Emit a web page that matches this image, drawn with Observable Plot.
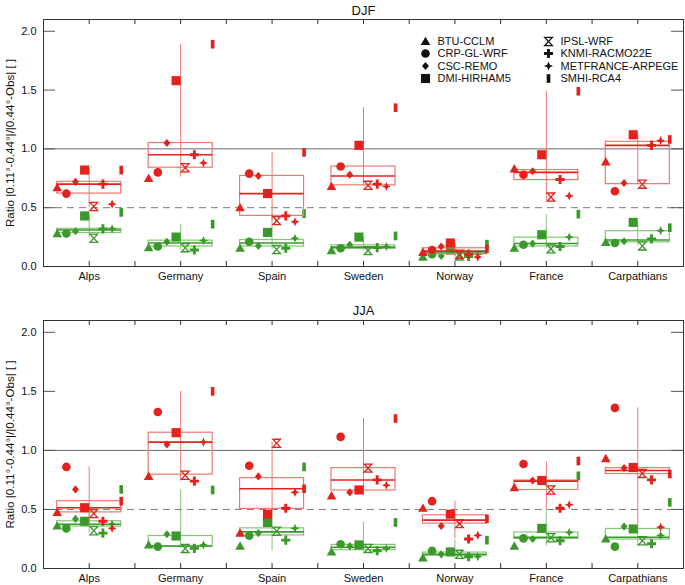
<!DOCTYPE html>
<html><head><meta charset="utf-8">
<script src="https://cdn.jsdelivr.net/npm/d3@7"></script>
<script src="https://cdn.jsdelivr.net/npm/@observablehq/plot@0.6"></script>
<style>body{margin:0;background:#fff} svg{display:block}</style>
</head><body><div id="chart"></div>
<script>
const regions = ["Alps","Germany","Spain","Sweden","Norway","France","Carpathians"];
const models = ["BTU-CCLM","CRP-GL-WRF","CSC-REMO","DMI-HIRHAM5","IPSL-WRF","KNMI-RACMO22E","METFRANCE-ARPEGE","SMHI-RCA4"];
const yTicks = [0, 0.5, 1.0, 1.5, 2.0];
const yDomain = [0, 2.1];
const yLabel = "Ratio |0.11°-0.44°|/|0.44°-Obs| [ ]";

// values per region (rows) and model (columns, order of `models`)
const djfRed = [
  [0.67, 0.62, 0.72, 0.82, 0.51, 0.70, 0.53, 0.82],
  [0.75, 0.80, 1.05, 1.58, 0.84, 0.95, 0.88, 1.89],
  [0.50, 0.79, 0.77, 0.62, 0.39, 0.43, 0.38, 0.97],
  [0.68, 0.85, 0.78, 1.03, 0.69, 0.70, 0.68, 1.35],
  [0.12, 0.14, 0.17, 0.20, 0.105, 0.105, 0.08, 0.15],
  [0.83, 0.78, 0.81, 0.95, 0.59, 0.74, 0.60, 1.49],
  [0.89, 0.64, 0.71, 1.12, 0.70, 1.03, 1.07, 1.08]
];
const djfGreen = [
  [0.28, 0.28, 0.30, 0.43, 0.24, 0.32, 0.32, 0.46],
  [0.16, 0.17, 0.21, 0.25, 0.16, 0.14, 0.22, 0.36],
  [0.155, 0.21, 0.175, 0.29, 0.145, 0.155, 0.24, 0.45],
  [0.135, 0.155, 0.185, 0.25, 0.135, 0.16, 0.17, 0.26],
  [0.08, 0.105, 0.09, 0.14, 0.09, 0.085, 0.105, 0.19],
  [0.155, 0.185, 0.195, 0.27, 0.15, 0.17, 0.25, 0.445],
  [0.205, 0.20, 0.215, 0.375, 0.175, 0.235, 0.305, 0.33]
];
const jjaRed = [
  [0.475, 0.86, 0.67, 0.515, 0.465, 0.40, 0.34, 0.57],
  [0.78, 1.325, 1.05, 1.15, 0.79, 0.74, 1.07, 1.50],
  [0.30, 0.87, 0.78, 0.46, 1.06, 0.51, 0.645, 0.675],
  [0.615, 1.115, 0.645, 0.665, 0.85, 0.75, 0.705, 1.27],
  [0.51, 0.57, 0.36, 0.46, 0.38, 0.25, 0.28, 0.42],
  [0.685, 0.885, 0.745, 0.745, 0.665, 0.51, 0.54, 0.91],
  [0.93, 1.36, 0.85, 0.855, 0.805, 0.75, 0.35, 0.80]
];
const jjaGreen = [
  [0.36, 0.34, 0.42, 0.40, 0.32, 0.30, 0.375, 0.67],
  [0.20, 0.185, 0.29, 0.275, 0.17, 0.17, 0.20, 0.665],
  [0.19, 0.277, 0.30, 0.39, 0.315, 0.24, 0.34, 0.86],
  [0.14, 0.205, 0.19, 0.20, 0.17, 0.15, 0.17, 0.39],
  [0.09, 0.15, 0.12, 0.14, 0.12, 0.10, 0.10, 0.24],
  [0.19, 0.255, 0.25, 0.34, 0.26, 0.235, 0.305, 0.785],
  [0.25, 0.185, 0.355, 0.335, 0.235, 0.21, 0.28, 0.56]
];

// box statistics per region: [whisker low, box low, median, box high, whisker high]
const djfRedBox = [
  [0.50, 0.62, 0.70, 0.72, 0.83],
  [0.76, 0.84, 0.95, 1.05, 1.89],
  [0.38, 0.43, 0.62, 0.77, 0.97],
  [0.68, 0.69, 0.77, 0.85, 1.35],
  [0.08, 0.105, 0.13, 0.155, 0.20],
  [0.56, 0.735, 0.80, 0.82, 1.49],
  [0.70, 0.70, 1.03, 1.06, 1.12]
];
const djfGreenBox = [
  [0.24, 0.285, 0.31, 0.32, 0.44],
  [0.14, 0.17, 0.20, 0.22, 0.36],
  [0.145, 0.17, 0.20, 0.225, 0.45],
  [0.135, 0.15, 0.165, 0.18, 0.25],
  [0.08, 0.105, 0.115, 0.13, 0.19],
  [0.15, 0.17, 0.195, 0.245, 0.44],
  [0.175, 0.205, 0.225, 0.30, 0.375]
];
const jjaRedBox = [
  [0.35, 0.475, 0.515, 0.57, 0.86],
  [0.74, 0.795, 1.07, 1.15, 1.50],
  [0.46, 0.505, 0.675, 0.765, 1.07],
  [0.615, 0.66, 0.75, 0.85, 1.27],
  [0.25, 0.38, 0.41, 0.45, 0.57],
  [0.50, 0.665, 0.74, 0.745, 0.905],
  [0.35, 0.80, 0.83, 0.85, 1.36]
];
const jjaGreenBox = [
  [0.30, 0.355, 0.375, 0.40, 0.50],
  [0.17, 0.185, 0.19, 0.275, 0.665],
  [0.15, 0.28, 0.31, 0.34, 0.46],
  [0.14, 0.155, 0.18, 0.20, 0.39],
  [0.09, 0.11, 0.12, 0.135, 0.24],
  [0.19, 0.25, 0.265, 0.305, 0.50],
  [0.185, 0.245, 0.265, 0.335, 0.35]
];

const RED = "#e3211d", GREEN = "#3b982b", RED_L = "#f0776e", GREEN_L = "#84c477";
const INK = "#111";

function sym(draw) { return {draw(ctx, size) { const r = Math.sqrt(size / Math.PI); draw(ctx, r); }}; }
function poly(c, pts) { c.moveTo(pts[0][0], pts[0][1]); for (let i = 1; i < pts.length; i++) c.lineTo(pts[i][0], pts[i][1]); c.closePath(); }
const symbols = [
  sym((c, r) => poly(c, [[0, -r], [r, r * 0.75], [-r, r * 0.75]])),
  sym((c, r) => { c.moveTo(r * 0.9, 0); c.arc(0, 0, r * 0.9, 0, 2 * Math.PI); }),
  sym((c, r) => poly(c, [[0, -r * 0.85], [r * 0.72, 0], [0, r * 0.85], [-r * 0.72, 0]])),
  sym((c, r) => c.rect(-r * 0.95, -r * 0.95, r * 1.9, r * 1.9)),
  sym((c, r) => poly(c, [[-r * 0.8, -r * 0.85], [r * 0.8, -r * 0.85], [-r * 0.8, r * 0.85], [r * 0.8, r * 0.85]])),
  sym((c, r) => { const a = r * 0.3, b = r * 0.95; poly(c, [[-a, -b], [a, -b], [a, -a], [b, -a], [b, a], [a, a], [a, b], [-a, b], [-a, a], [-b, a], [-b, -a], [-a, -a]]); }),
  sym((c, r) => { const a = r * 0.28, b = r * 0.95; poly(c, [[0, -b], [a, -a], [b, 0], [a, a], [0, b], [-a, a], [-b, 0], [-a, -a]]); }),
  sym((c, r) => c.rect(-r * 0.38, -r * 0.9, r * 0.76, r * 1.8))
];
const hollow = [false, false, false, false, true, false, false, false];
const R = 4.8;
const HALF = 0.35; // half-width of a box in category units
const STEP = 0.1;  // horizontal offset between models in category units

function points(vals) {
  const out = [];
  vals.forEach((row, ri) => row.forEach((v, mi) => out.push({x: ri + 0.5 + (mi - 3.5) * STEP, y: v, m: mi})));
  return out;
}
function boxes(stats) {
  return stats.map((s, ri) => ({c: ri + 0.5, wlo: s[0], q1: s[1], med: s[2], q3: s[3], whi: s[4]}));
}

function seriesMarks(vals, stats, dark, light) {
  const b = boxes(stats), p = points(vals);
  const marks = [
    Plot.ruleX(b, {x: "c", y1: "wlo", y2: "whi", stroke: light, strokeWidth: 1}),
    Plot.rect(b, {x1: d => d.c - HALF, x2: d => d.c + HALF, y1: "q1", y2: "q3", fill: "none", stroke: light, strokeWidth: 1.2}),
    Plot.ruleY(b, {y: "med", x1: d => d.c - HALF, x2: d => d.c + HALF, stroke: dark, strokeWidth: 1.6})
  ];
  symbols.forEach((s, mi) => {
    marks.push(Plot.dot(p.filter(d => d.m === mi), {
      x: "x", y: "y", r: R, symbol: s,
      fill: hollow[mi] ? "none" : dark, stroke: hollow[mi] ? dark : "none", strokeWidth: 1.3
    }));
  });
  return marks;
}

function legendMarks() {
  const rowsDy = [22, 34, 46.5, 59];
  const marks = [];
  models.forEach((name, i) => {
    const dx = i < 4 ? 382 : 505;
    const dy = rowsDy[i % 4];
    marks.push(Plot.dot([name], {frameAnchor: "top-left", dx, dy, r: R, symbol: symbols[i],
      fill: hollow[i] ? "none" : INK, stroke: hollow[i] ? INK : "none", strokeWidth: 1.3}));
    marks.push(Plot.text([name], {frameAnchor: "top-left", dx: dx + 12, dy, text: d => d, textAnchor: "start", lineAnchor: "middle", fontSize: 11, fill: INK}));
  });
  return marks;
}

function panel({title, red, green, redBox, greenBox, height, marginTop, marginBottom, legend, titleDy}) {
  const xt = d3.range(1, 14).map(i => i / 2);
  const marks = [
    Plot.ruleY([0.5], {stroke: "#7a7a7a", strokeDasharray: "7,5", strokeWidth: 1}),
    Plot.ruleY([1.0], {stroke: "#6a6a6a", strokeWidth: 1}),
    Plot.ruleX(xt, {x: d => d, y1: yDomain[0], y2: yDomain[0], insetTop: -5, stroke: "#333"}),
    Plot.ruleX(xt, {x: d => d, y1: yDomain[1], y2: yDomain[1], insetBottom: -5, stroke: "#333"}),
    Plot.ruleY(yTicks, {y: d => d, x1: 0, x2: 0, insetRight: -12, stroke: "#555"}),
    Plot.ruleY(yTicks, {y: d => d, x1: 7, x2: 7, insetLeft: -12, stroke: "#555"}),
    ...seriesMarks(green, greenBox, GREEN, GREEN_L),
    ...seriesMarks(red, redBox, RED, RED_L),
    Plot.frame({stroke: "#333", strokeWidth: 1}),
    Plot.axisX({ticks: regions.map((_, i) => i + 0.5), tickFormat: d => regions[Math.round(d - 0.5)], tickSize: 0, tickPadding: 6, fontSize: 11, label: null}),
    Plot.axisY({ticks: yTicks, tickFormat: d3.format(".1f"), tickSize: 0, tickPadding: 7, fontSize: 11, label: null}),
    Plot.text([yLabel], {frameAnchor: "left", rotate: -90, dx: -33, text: d => d, textAnchor: "middle", lineAnchor: "middle", fontSize: 11.6, fill: INK}),
    Plot.text([title], {frameAnchor: "top", dy: titleDy, text: d => d, textAnchor: "middle", lineAnchor: "middle", fontSize: 13, fill: INK}),
    ...(legend ? legendMarks() : [])
  ];
  return Plot.plot({
    width: 685, height, marginLeft: 43, marginRight: 2, marginTop, marginBottom,
    x: {domain: [0, 7]},
    y: {domain: yDomain},
    style: {fontFamily: "'Liberation Sans', Arial, sans-serif", fontSize: "11px", color: INK, background: "#fff", overflow: "visible"},
    marks
  });
}

const el = document.getElementById("chart");
el.appendChild(panel({title: "DJF", red: djfRed, green: djfGreen, redBox: djfRedBox, greenBox: djfGreenBox,
  height: 290, marginTop: 19, marginBottom: 24, legend: true, titleDy: -9}));
el.appendChild(panel({title: "JJA", red: jjaRed, green: jjaGreen, redBox: jjaRedBox, greenBox: jjaGreenBox,
  height: 295, marginTop: 30, marginBottom: 17, legend: false, titleDy: -10}));
</script>
</body></html>
